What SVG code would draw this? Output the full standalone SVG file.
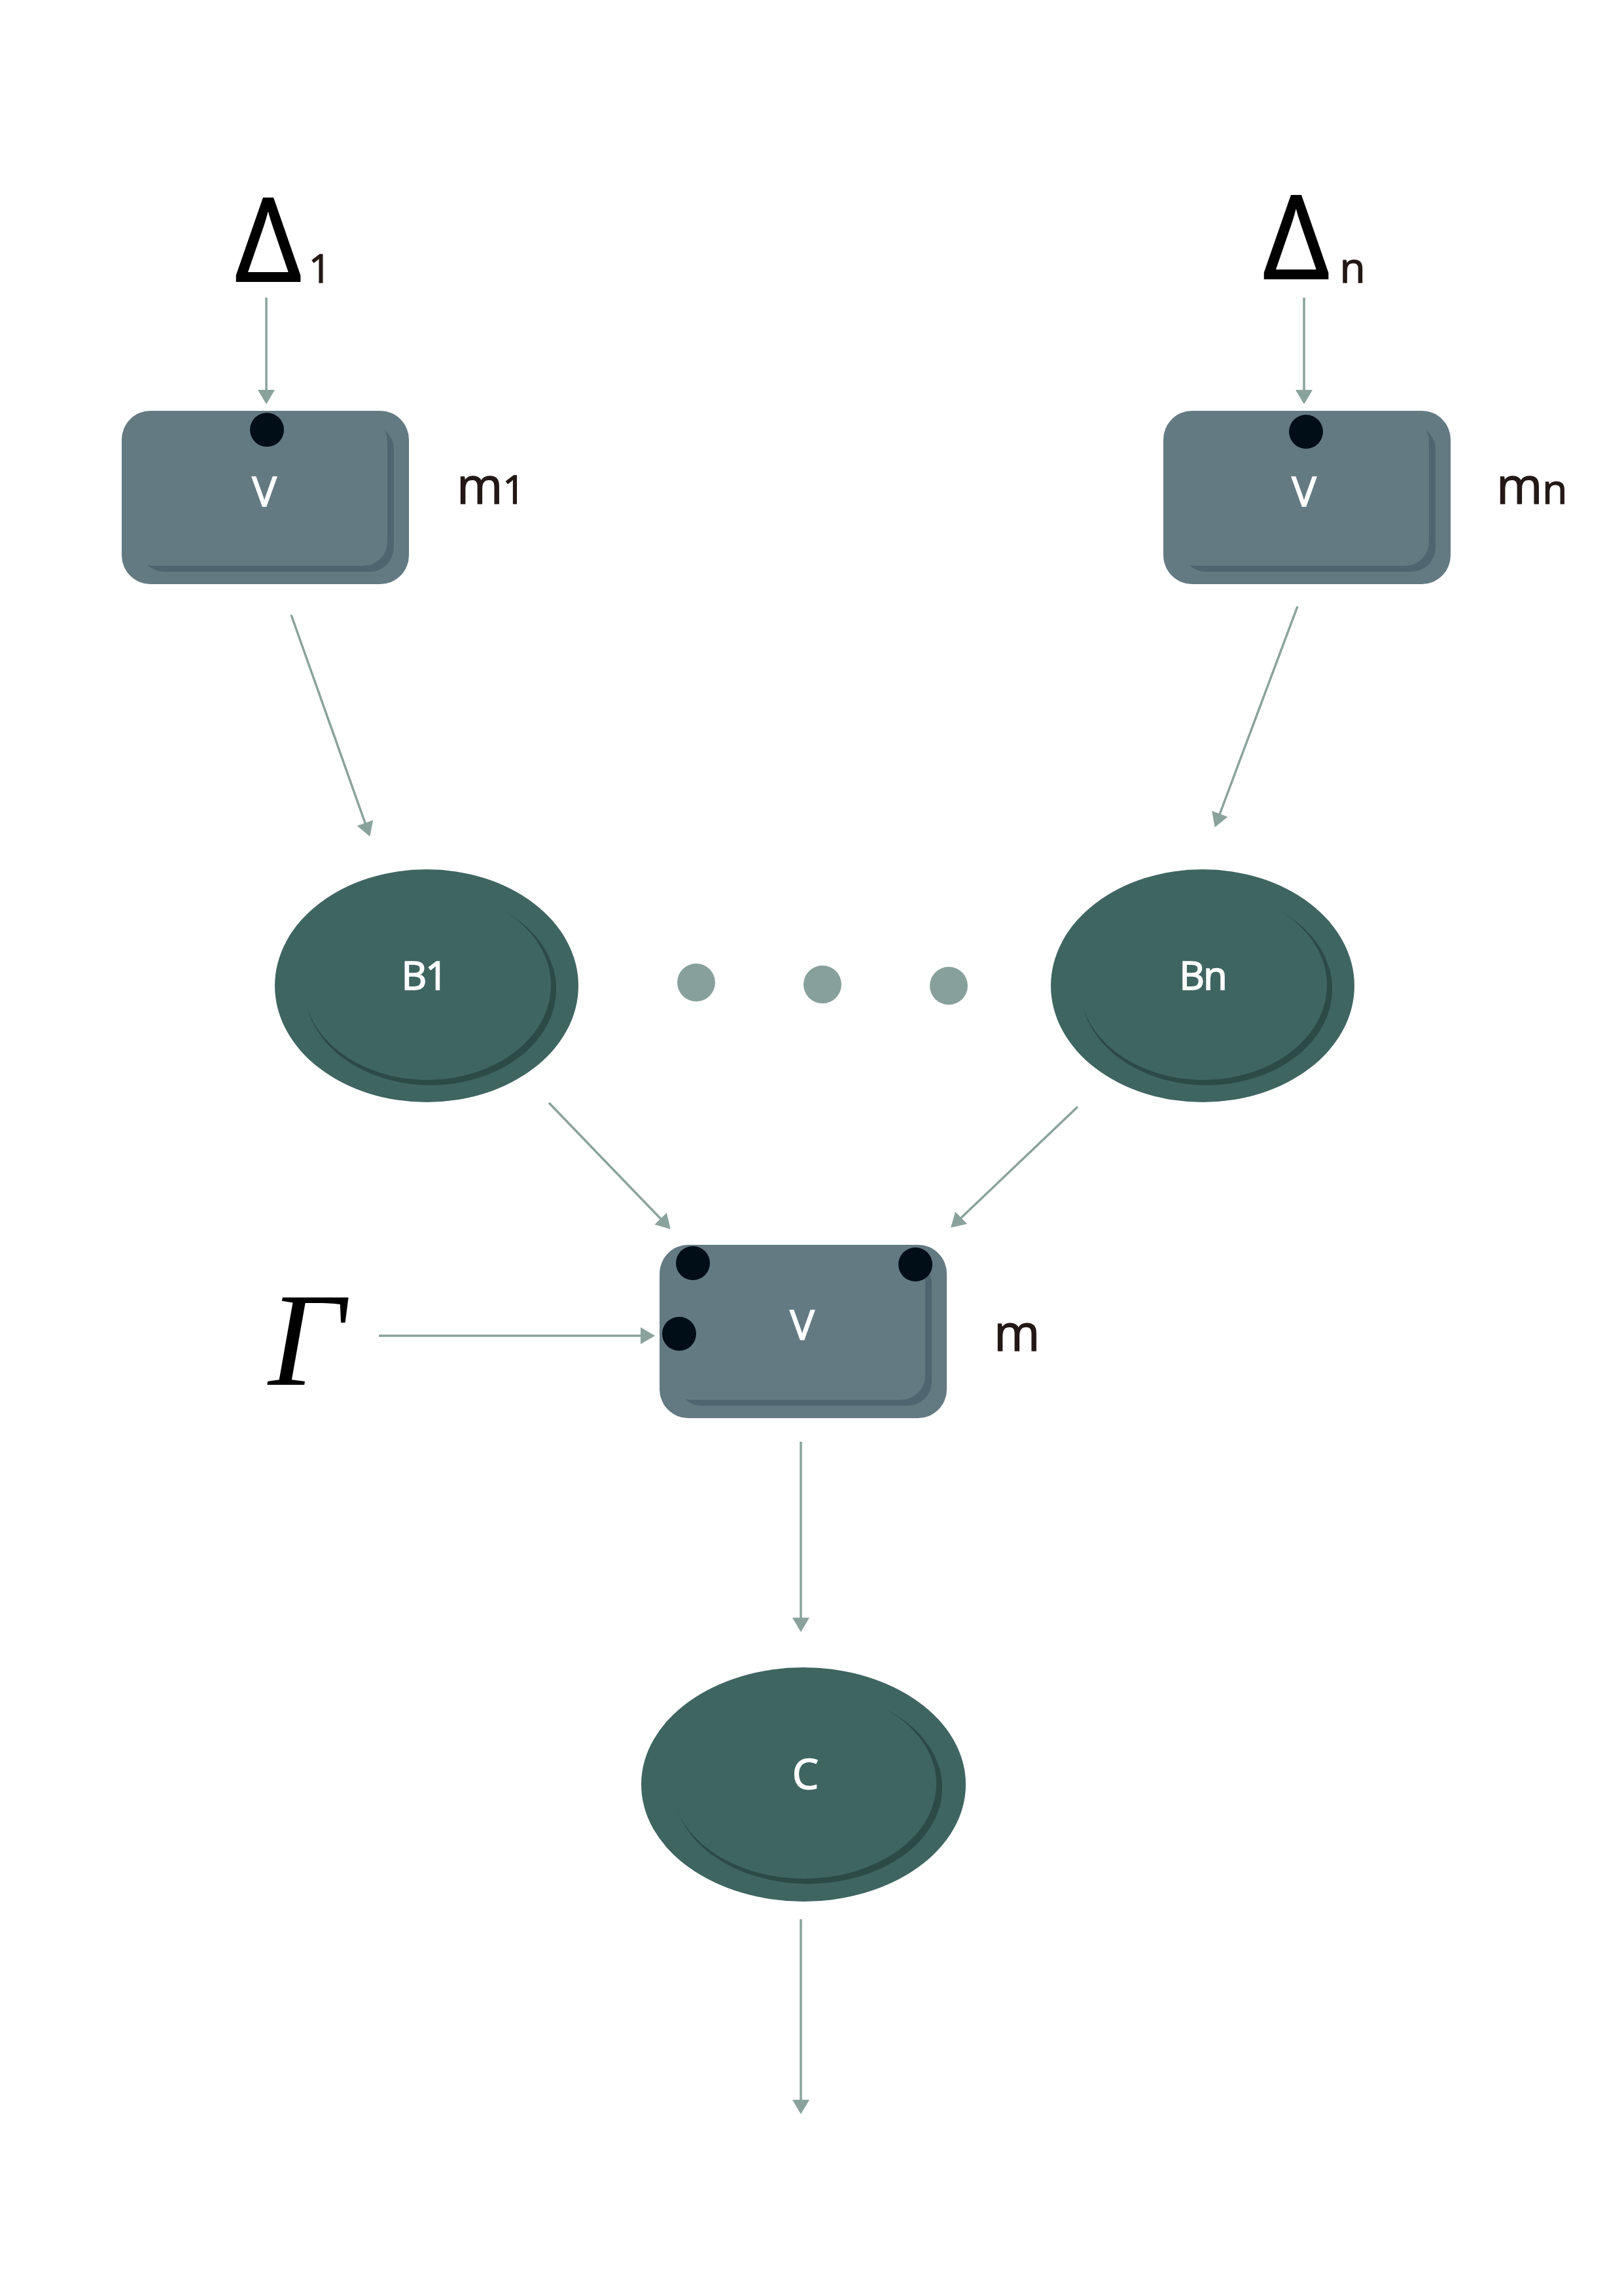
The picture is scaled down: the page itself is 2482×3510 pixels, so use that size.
<svg xmlns="http://www.w3.org/2000/svg" width="2482" height="3510" viewBox="0 0 2482 3510">
<style>
.box{fill:#647a83}
.boxdark{fill:#4f6570}
.ell{fill:#3f6561}
.elldark{fill:#2c4a46}
.port{fill:#020e17}
.lbl{font-family:"Open Sans","Noto Sans",sans-serif;fill:#ffffff;stroke:#ffffff;stroke-width:1.6;text-anchor:middle}
.side{font-family:"Open Sans","Noto Sans",sans-serif;fill:#231815;stroke:#231815;stroke-width:1.4}
.greek{font-family:"Open Sans","Noto Sans",sans-serif;fill:#000000;text-anchor:middle}
.conn{stroke:#8aa29c;stroke-width:3.5;fill:none}
.dot{fill:#88a09b}
</style>
<defs>
<marker id="ah" markerUnits="userSpaceOnUse" markerWidth="22" markerHeight="28" viewBox="0 0 22 28" refX="18" refY="14" orient="auto">
<path d="M0,1 L22,14 L0,27 z" fill="#8aa29c"/>
</marker>
</defs>
<rect width="2482" height="3510" fill="#ffffff"/>

<g id="delta1">
<text class="greek" x="410" y="430" font-size="178" stroke="#000" stroke-width="2">Δ</text>
<text class="side" x="489" y="432" font-size="60" text-anchor="middle">1</text>
</g>
<g id="deltan">
<text class="greek" x="1981" y="426" font-size="178" stroke="#000" stroke-width="2">Δ</text>
<text class="side" x="2067" y="432" font-size="64" text-anchor="middle">n</text>
</g>

<g id="box1">
<rect class="box" x="186" y="628" width="439" height="265" rx="44"/>
<rect class="boxdark" x="214" y="650" width="388" height="224" rx="37"/>
<rect class="box" x="196" y="638" width="396" height="227" rx="37"/>
<circle class="port" cx="408" cy="657" r="26"/>
<text class="lbl" x="404" y="774" font-size="63">V</text>
</g>
<text id="label-m1" class="side" x="698" y="770" font-size="76">m<tspan font-size="60">1</tspan></text>

<g id="box2">
<rect class="box" x="1778" y="628" width="439" height="265" rx="44"/>
<rect class="boxdark" x="1806" y="650" width="388" height="224" rx="37"/>
<rect class="box" x="1788" y="638" width="396" height="227" rx="37"/>
<circle class="port" cx="1996" cy="660" r="26"/>
<text class="lbl" x="1993" y="774" font-size="63">V</text>
</g>
<text id="label-mn" class="side" x="2287" y="770" font-size="76">m<tspan font-size="62">n</tspan></text>

<g id="B1">
<ellipse class="ell" cx="652" cy="1507" rx="232" ry="178"/>
<ellipse class="elldark" cx="658" cy="1512" rx="192" ry="147"/>
<ellipse class="ell" cx="653" cy="1506" rx="189" ry="145"/>
<text class="lbl" x="648" y="1513" font-size="60" letter-spacing="-2" stroke-width="2.4">B1</text>
</g>

<g id="ellipsis">
<circle class="dot" cx="1064" cy="1502" r="29"/>
<circle class="dot" cx="1257" cy="1505" r="29"/>
<circle class="dot" cx="1450" cy="1507" r="29"/>
</g>

<g id="Bn">
<ellipse class="ell" cx="1838" cy="1507" rx="232" ry="178"/>
<ellipse class="elldark" cx="1844" cy="1512" rx="192" ry="147"/>
<ellipse class="ell" cx="1839" cy="1506" rx="189" ry="145"/>
<text class="lbl" x="1838" y="1513" font-size="60" letter-spacing="-2" stroke-width="2.4">Bn</text>
</g>

<g id="gamma">
<text x="410" y="2117" font-family="'Liberation Serif','Times New Roman',serif" font-style="italic" font-size="204" fill="#000000">Γ</text>
</g>

<g id="boxm">
<rect class="box" x="1008" y="1903" width="439" height="265" rx="44"/>
<rect class="boxdark" x="1036" y="1925" width="388" height="224" rx="37"/>
<rect class="box" x="1018" y="1913" width="396" height="227" rx="37"/>
<circle class="port" cx="1059" cy="1931" r="26"/>
<circle class="port" cx="1399" cy="1933" r="26"/>
<circle class="port" cx="1038" cy="2039" r="26"/>
<text class="lbl" x="1226" y="2048" font-size="63">V</text>
</g>
<text id="label-m" class="side" x="1519" y="2065" font-size="76">m</text>

<g id="C">
<ellipse class="ell" cx="1228" cy="2728" rx="248" ry="179"/>
<ellipse class="elldark" cx="1235" cy="2733" rx="205" ry="147"/>
<ellipse class="ell" cx="1229" cy="2727" rx="202" ry="145"/>
<text class="lbl" x="1231" y="2735" font-size="64">C</text>
</g>

<g id="connectors">
<line class="conn" x1="407" y1="455" x2="407" y2="614" marker-end="url(#ah)"/>
<line class="conn" x1="1993" y1="455" x2="1993" y2="614" marker-end="url(#ah)"/>
<line class="conn" x1="445" y1="940" x2="564" y2="1275" marker-end="url(#ah)"/>
<line class="conn" x1="1983" y1="927" x2="1858" y2="1261" marker-end="url(#ah)"/>
<line class="conn" x1="839" y1="1686" x2="1022" y2="1876" marker-end="url(#ah)"/>
<line class="conn" x1="1647" y1="1692" x2="1456" y2="1874" marker-end="url(#ah)"/>
<line class="conn" x1="579" y1="2042" x2="997" y2="2042" marker-end="url(#ah)"/>
<line class="conn" x1="1224" y1="2204" x2="1224" y2="2491" marker-end="url(#ah)"/>
<line class="conn" x1="1224" y1="2934" x2="1224" y2="3228" marker-end="url(#ah)"/>
</g>
</svg>
